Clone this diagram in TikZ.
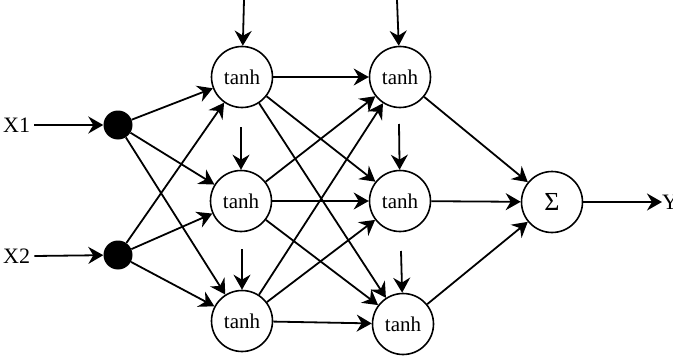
\documentclass[tikz,border=0pt]{standalone}
\usepackage{fontspec}
\setmainfont{Liberation Serif}
\usetikzlibrary{arrows.meta}
\begin{document}
\begin{tikzpicture}[x=1pt,y=-1pt,
  neuron/.style={circle,draw,line width=1.6pt,minimum size=61pt,inner sep=0pt,font=\fontsize{21}{21}\selectfont},
  dot/.style={circle,fill=black,minimum size=29pt,inner sep=0pt},
  lbl/.style={font=\fontsize{22}{22}\selectfont,inner sep=0pt},
  conn/.style={line width=1.8pt,-{Stealth[length=15pt,width=17pt,inset=5pt]}}]
\useasboundingbox (0,0) rectangle (673,356);
\node[lbl,anchor=west] (x1) at (3,125) {X1};
\node[lbl,anchor=west] (x2) at (3,256) {X2};
\node[dot] (i1) at (118,125) {};
\node[dot] (i2) at (118,255) {};
\node[neuron] (a1) at (242,77) {tanh};
\node[neuron] (a2) at (241,201) {tanh};
\node[neuron] (a3) at (242,321) {tanh};
\node[neuron] (b1) at (400,77) {tanh};
\node[neuron] (b2) at (400,201) {tanh};
\node[neuron] (b3) at (403,324) {tanh};
\node[neuron,font=\fontsize{26}{26}\selectfont] (s) at (552,202) {Σ};
\node[lbl,anchor=west] (y) at (662,202) {Y};
\coordinate (ta1) at (244,0);
\coordinate (tb1) at (397,0);
\coordinate (ta2) at (241,127);
\coordinate (tb2) at (399,124);
\coordinate (ta3) at (242,249);
\coordinate (tb3) at (401,251);
\draw[conn] (x1.east) ++(4,0) -- (i1);
\draw[conn] (x2.east) ++(4,0) -- (i2);
\foreach \i in {i1,i2}{\foreach \a in {a1,a2,a3}{\draw[conn] (\i) -- (\a);}}
\foreach \a in {a1,a2,a3}{\foreach \b in {b1,b2,b3}{\draw[conn] (\a) -- (\b);}}
\foreach \b in {b1,b2,b3}{\draw[conn] (\b) -- (s);}
\draw[conn] (ta1) -- (a1);
\draw[conn] (tb1) -- (b1);
\draw[conn] (ta2) -- (a2);
\draw[conn] (tb2) -- (b2);
\draw[conn] (ta3) -- (a3);
\draw[conn] (tb3) -- (b3);
\draw[conn] (s) -- (y.west);
\end{tikzpicture}
\end{document}
